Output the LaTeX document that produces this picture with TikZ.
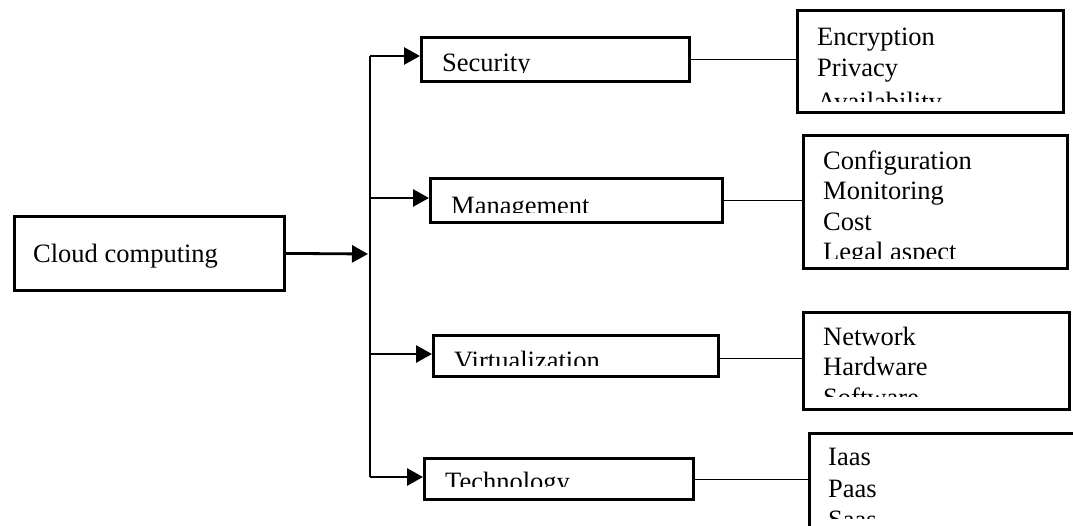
\documentclass[tikz,border=0pt]{standalone}
\usepackage{fontspec}
\setmainfont{Liberation Serif}
\usetikzlibrary{arrows.meta}
\begin{document}
\begin{tikzpicture}[x=1pt,y=-1pt,
  box/.style={draw, line width=2.8pt, inner sep=0pt, anchor=north west},
  txt/.style={inner sep=0pt, anchor=base west, font=\fontsize{26.5}{31}\selectfont},
  arr/.style={line width=2.8pt, -{Triangle[length=16pt,width=17pt]}},
  thinline/.style={line width=1.1pt},
  trunk/.style={line width=1.7pt}]
\useasboundingbox[fill=white] (0,0) rectangle (1073,525);

% left box
\node[box, minimum width=270pt, minimum height=74pt] (cloud) at (13,215) {};
\node[txt] (cloudt) at (33,262) {Cloud computing};

% middle boxes
\node[box, minimum width=268pt, minimum height=44pt] (sec) at (420,36) {};
\node[box, minimum width=292pt, minimum height=44pt] (man) at (429,177) {};
\node[box, minimum width=285pt, minimum height=41pt] (vir) at (432,334) {};
\node[box, minimum width=269pt, minimum height=41pt] (tec) at (423,457) {};

\begin{scope}\clip (420,36) rectangle (688,72);
\node[txt] (sect) at (442,71) {Security};\end{scope}
\begin{scope}\clip (429,177) rectangle (721,212);
\node[txt] (mant) at (451,214) {Management};\end{scope}
\begin{scope}\clip (432,334) rectangle (717,365);
\node[txt] (virt) at (454,369) {Virtualization};\end{scope}
\begin{scope}\clip (423,457) rectangle (692,486);
\node[txt] (tect) at (445,490) {Technology};\end{scope}

% right boxes
\node[box, minimum width=266pt, minimum height=102pt] (r1) at (796,9) {};
\node[box, minimum width=264pt, minimum height=133pt] (r2) at (802,134) {};
\node[box, minimum width=266pt, minimum height=97pt] (r3) at (802,311) {};
\node[box, minimum width=300pt, minimum height=150pt] (r4) at (808,432) {};

\begin{scope}\clip (796,9) rectangle (1062,101);
\node[txt] (r1a) at (817,45) {Encryption};
\node[txt] (r1b) at (817,76) {Privacy};
\node[txt] (r1c) at (817,110) {Availability};\end{scope}
\begin{scope}\clip (802,134) rectangle (1066,258);
\node[txt] (r2a) at (823,169) {Configuration};
\node[txt] (r2b) at (823,199) {Monitoring};
\node[txt] (r2c) at (823,230) {Cost};
\node[txt] (r2d) at (823,260) {Legal aspect};\end{scope}
\begin{scope}\clip (802,311) rectangle (1068,396);
\node[txt] (r3a) at (823,345) {Network};
\node[txt] (r3b) at (823,375) {Hardware};
\node[txt] (r3c) at (823,406) {Software};\end{scope}
\begin{scope}\clip (808,432) rectangle (1073,518);
\node[txt] (r4a) at (828,465) {Iaas};
\node[txt] (r4b) at (828,497) {Paas};
\node[txt] (r4c) at (828,528) {Saas};\end{scope}

% connectors
\coordinate (j) at (368,254);
\coordinate (t1) at (370,56);
\coordinate (t2) at (370,198);
\coordinate (t3) at (370,354);
\coordinate (t4) at (370,477);
\draw[trunk] (t1) -- (t4);
\draw[arr] (cloud.east) -- (j);
\draw[arr] (t1) -- (t1 -| sec.west);
\draw[arr] (t2) -- (t2 -| man.west);
\draw[arr] (t3) -- (t3 -| vir.west);
\draw[arr] (t4) -- (t4 -| tec.west);

\draw[thinline] (sec.east) -- (sec.east -| r1.west);
\draw[thinline] (man.east) -- (man.east -| r2.west);
\draw[thinline] ([yshift=-3pt]vir.east) -- ([yshift=-3pt]vir.east -| r3.west);
\draw[thinline] ([yshift=-1pt]tec.east) -- ([yshift=-1pt]tec.east -| r4.west);
\end{tikzpicture}
\end{document}
